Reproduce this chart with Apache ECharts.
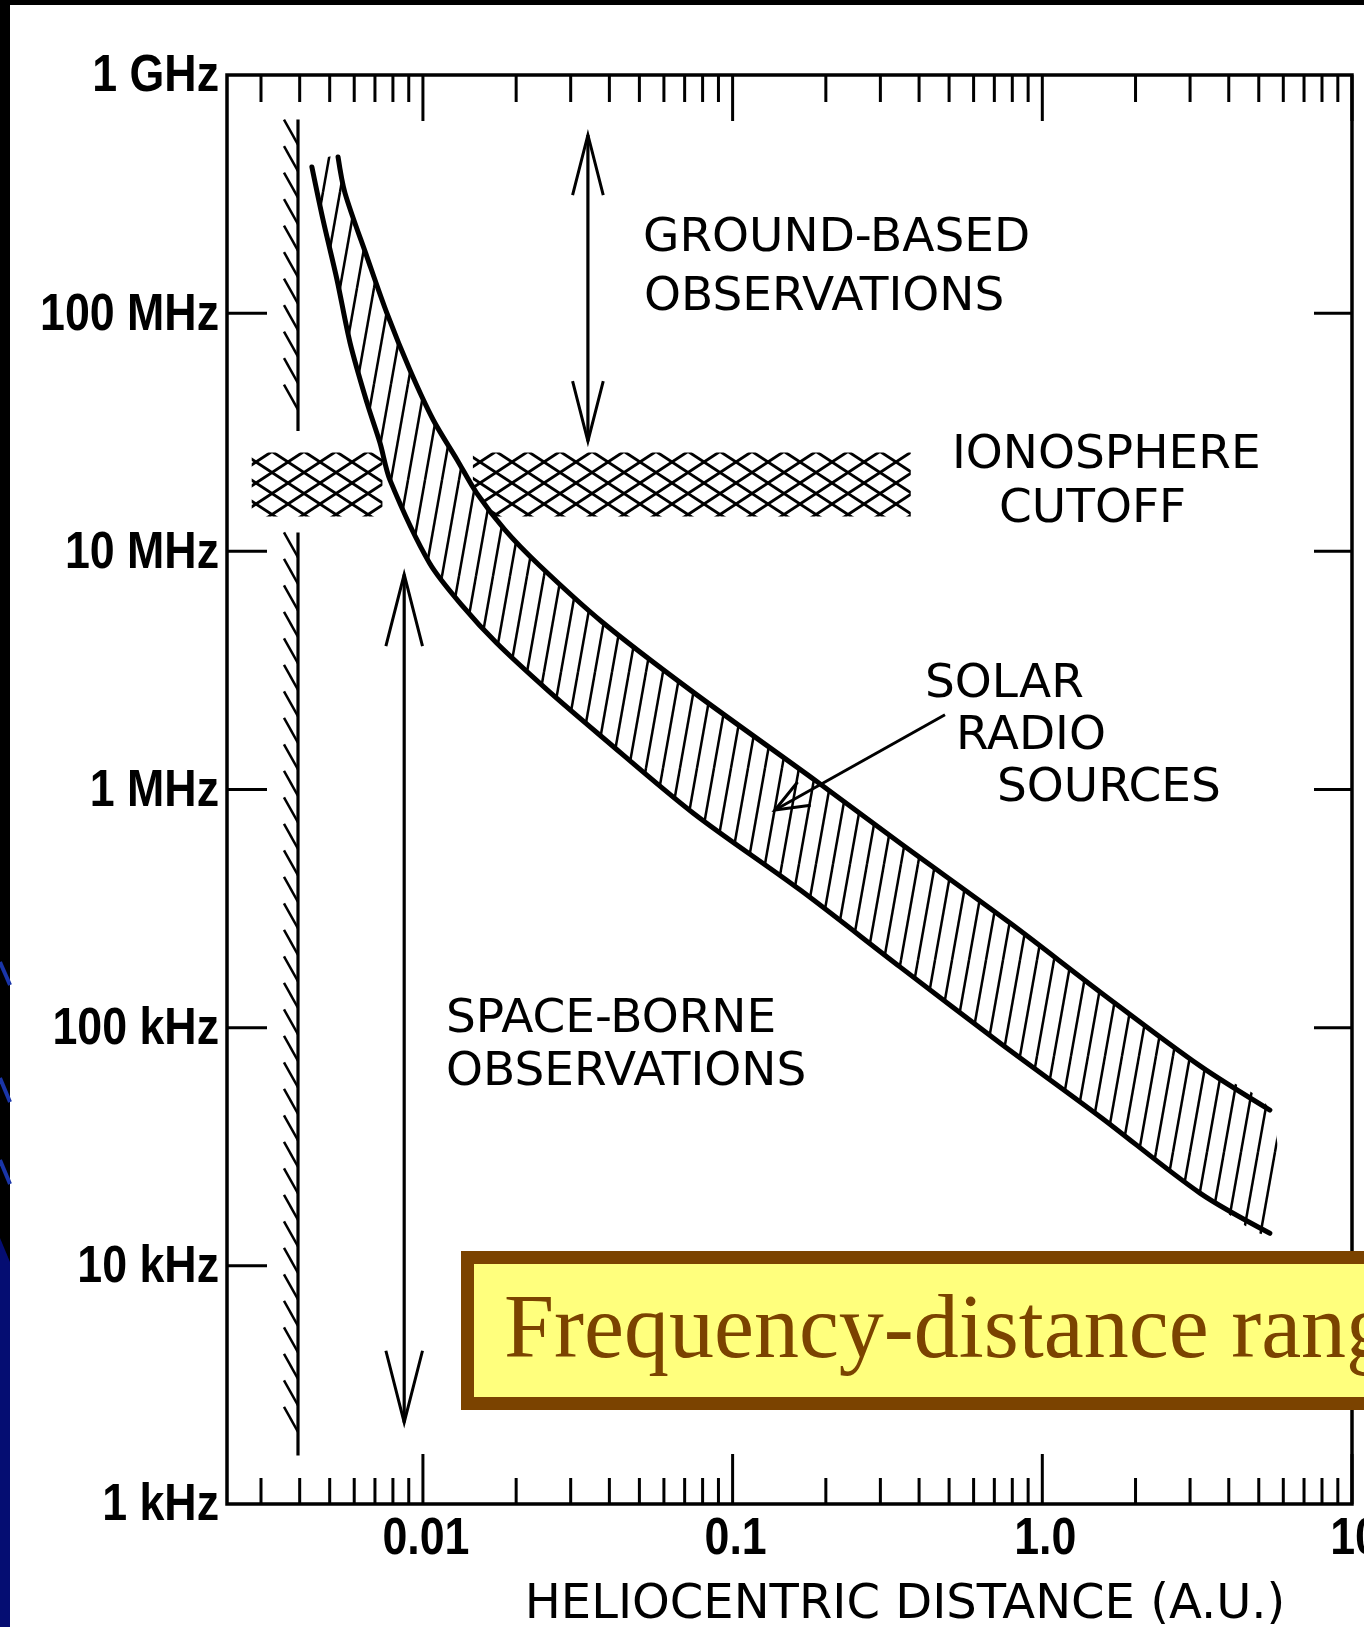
<!DOCTYPE html>
<html>
<head>
<meta charset="utf-8">
<title>Frequency-distance range</title>
<script src="https://cdn.jsdelivr.net/npm/echarts@6.0.0/dist/echarts.min.js"></script>
<style>
html,body{margin:0;padding:0;background:#000;overflow:hidden;}
#chart{width:1364px;height:1627px;}
</style>
</head>
<body>
<div id="chart"></div>
<script>
// ---------------- axis ranges ----------------
const X_MIN = 0.00233, X_MAX = 10;
const Y_MIN = 1e3, Y_MAX = 1e9;

// ---------------- tick labels ----------------
const yTickHz = [1e3, 1e4, 1e5, 1e6, 1e7, 1e8, 1e9];
const yTickLabels = ['1 kHz', '10 kHz', '100 kHz', '1 MHz', '10 MHz', '100 MHz', '1 GHz'];
const yInnerTickHz = [1e4, 1e5, 1e6, 1e7, 1e8];
const xTickAU = [0.01, 0.1, 1, 10];
const xTickLabels = ['0.01', '0.1', '1.0', '10'];
const xMinorAU = [0.003, 0.004, 0.005, 0.006, 0.007, 0.008, 0.009,
                  0.02, 0.03, 0.04, 0.05, 0.06, 0.07, 0.08, 0.09,
                  0.2, 0.3, 0.4, 0.5, 0.6, 0.7, 0.8, 0.9,
                  2, 3, 4, 5, 6, 7, 8, 9];

// ---------------- solar radio sources band ----------------
const bandUpperAU = [0.00532, 0.00560, 0.00660, 0.00765, 0.00908, 0.0108, 0.0129, 0.0149, 0.0184, 0.0237,
                     0.0379, 0.0729, 0.187, 0.347, 0.787, 1.54, 3.23, 5.43];
const bandUpperHz = [4.53e8, 3.20e8, 1.72e8, 1.00e8, 5.77e7, 3.56e7, 2.42e7, 1.76e7, 1.23e7, 8.76e6,
                     5.05e6, 2.62e6, 1.08e6, 5.96e5, 2.75e5, 1.41e5, 6.91e4, 4.51e4];
const bandLowerAU = [0.00438, 0.00476, 0.00528, 0.00582, 0.00660, 0.00727, 0.00783, 0.0105, 0.0135, 0.0173,
                     0.0252, 0.0373, 0.0745, 0.165, 0.347, 0.730, 1.54, 3.23, 5.43];
const bandLowerHz = [4.11e8, 2.46e8, 1.38e8, 7.49e7, 4.20e7, 2.85e7, 1.99e7, 8.93e6, 5.84e6, 4.12e6,
                     2.62e6, 1.69e6, 7.97e5, 3.79e5, 1.80e5, 8.63e4, 4.22e4, 2.02e4, 1.37e4];

// ---------------- ionosphere cutoff ----------------
const ionoStartAU = [0.0028, 0.0145];
const ionoEndAU = [0.0074, 0.376];
const ionoHz = [1.4e7, 2.6e7];

// ---------------- solar surface wall ----------------
const wallAU = [0.00395, 0.00395];
const wallTopHz = [6.5e8, 1.2e7];
const wallBottomHz = [3.2e7, 1.6e3];

// ---------------- observation-range arrows ----------------
const rangeArrowAU = [0.0341, 0.0087];
const rangeArrowTopHz = [5.6e8, 8.0e6];
const rangeArrowBottomHz = [2.9e7, 2.2e3];

// pointer arrow: tail -> tip
const pointerAU = [0.485, 0.137];
const pointerHz = [2.06e6, 8.2e5];

// ---------------- texts ----------------
const xAxisTitle = 'HELIOCENTRIC DISTANCE (A.U.)';
const bannerText = 'Frequency-distance range';

// ---------------- patterns ----------------
function makeHatch() {
  const w = 17, h = 96, c = document.createElement('canvas');
  c.width = w; c.height = h;
  const g = c.getContext('2d');
  g.strokeStyle = '#000'; g.lineWidth = 2.5;
  [-w, 0, w].forEach(o => { g.beginPath(); g.moveTo(o, h); g.lineTo(o + w, 0); g.stroke(); });
  return c;
}
function makeCross() {
  const w = 32, h = 21, c = document.createElement('canvas');
  c.width = w; c.height = h;
  const g = c.getContext('2d');
  g.strokeStyle = '#000'; g.lineWidth = 2.8;
  [-w, 0, w].forEach(dx => [-h, 0, h].forEach(dy => {
    g.beginPath(); g.moveTo(dx, dy); g.lineTo(dx + w, dy + h); g.stroke();
    g.beginPath(); g.moveTo(dx, dy + h); g.lineTo(dx + w, dy); g.stroke();
  }));
  return c;
}
const hatchCanvas = makeHatch();
const crossCanvas = makeCross();

const INK = '#000';
const TICK_FONT = "bold 52px 'Liberation Sans', Arial, sans-serif";
const TICK_SCALE = 0.86;
const ANN_FONT = "47px 'DejaVu Sans', sans-serif";

function arrowHead(tip, dir, len, ang) {
  const c = Math.cos(ang), s = Math.sin(ang);
  const a = [dir[0] * c - dir[1] * s, dir[0] * s + dir[1] * c];
  const b = [dir[0] * c + dir[1] * s, -dir[0] * s + dir[1] * c];
  return {
    type: 'polyline',
    shape: { points: [[tip[0] + a[0] * len, tip[1] + a[1] * len], tip, [tip[0] + b[0] * len, tip[1] + b[1] * len]] },
    style: { stroke: INK, lineWidth: 3, fill: 'none', lineJoin: 'miter' }
  };
}

const chart = echarts.init(document.getElementById('chart'), null, { renderer: 'canvas', width: 1364, height: 1627 });

const series = [
  // ionosphere cross-hatch
  {
    type: 'custom', silent: true, z: 3,
    data: ionoStartAU.map((s, i) => [s, ionoEndAU[i], ionoHz[0], ionoHz[1]]),
    encode: { x: [0, 1], y: [2, 3] },
    renderItem(params, api) {
      const p0 = api.coord([api.value(0), api.value(3)]);
      const p1 = api.coord([api.value(1), api.value(2)]);
      return {
        type: 'rect',
        shape: { x: p0[0], y: p0[1], width: p1[0] - p0[0], height: p1[1] - p0[1] },
        style: { fill: { image: crossCanvas, repeat: 'repeat' }, stroke: 'none' }
      };
    }
  },
  // solar radio sources band
  {
    type: 'custom', silent: true, z: 4,
    data: bandUpperAU.map((x, i) => [x, bandUpperHz[i]]),
    encode: { x: 0, y: 1 },
    renderItem(params, api) {
      if (params.dataIndex !== 0) return;
      const U = bandUpperAU.map((x, i) => api.coord([x, bandUpperHz[i]]));
      const L = bandLowerAU.map((x, i) => api.coord([x, bandLowerHz[i]]));
      const poly = U.concat(L.slice().reverse());
      return {
        type: 'group',
        children: [
          { type: 'polygon', shape: { points: poly, smooth: 0.3 }, style: { fill: '#fff', stroke: 'none' } },
          { type: 'polygon', shape: { points: poly, smooth: 0.3 },
            style: { fill: { image: hatchCanvas, repeat: 'repeat' }, stroke: 'none' } },
          { type: 'polyline', shape: { points: U, smooth: 0.3 },
            style: { stroke: INK, lineWidth: 5, fill: 'none', lineCap: 'round' } },
          { type: 'polyline', shape: { points: L, smooth: 0.3 },
            style: { stroke: INK, lineWidth: 5, fill: 'none', lineCap: 'round' } }
        ]
      };
    }
  },
  // solar surface wall with hatches
  {
    type: 'custom', silent: true, z: 4,
    data: wallAU.map((x, i) => [x, wallTopHz[i], wallBottomHz[i]]),
    encode: { x: 0, y: [1, 2] },
    renderItem(params, api) {
      const t = api.coord([api.value(0), api.value(1)]);
      const b = api.coord([api.value(0), api.value(2)]);
      const children = [{ type: 'line', shape: { x1: t[0], y1: t[1], x2: b[0], y2: b[1] }, style: { stroke: INK, lineWidth: 3.2 } }];
      for (let y = t[1] + 25; y <= b[1] + 0.5; y += 26.5) {
        children.push({ type: 'line', shape: { x1: t[0] - 14, y1: y - 25, x2: t[0], y2: y }, style: { stroke: INK, lineWidth: 2.5 } });
      }
      return { type: 'group', children };
    }
  },
  // double-headed range arrows
  {
    type: 'custom', silent: true, z: 5,
    data: rangeArrowAU.map((x, i) => [x, rangeArrowTopHz[i], rangeArrowBottomHz[i]]),
    encode: { x: 0, y: [1, 2] },
    renderItem(params, api) {
      const t = api.coord([api.value(0), api.value(1)]);
      const b = api.coord([api.value(0), api.value(2)]);
      const len = params.dataIndex === 0 ? 62 : 74;
      return {
        type: 'group',
        children: [
          { type: 'line', shape: { x1: t[0], y1: t[1], x2: b[0], y2: b[1] }, style: { stroke: INK, lineWidth: 3.2 } },
          arrowHead(t, [0, 1], len, 0.25),
          arrowHead(b, [0, -1], len, 0.25)
        ]
      };
    }
  },
  // pointer arrow for "SOLAR RADIO SOURCES"
  {
    type: 'custom', silent: true, z: 6,
    data: [[pointerAU[0], pointerHz[0], pointerAU[1], pointerHz[1]]],
    encode: { x: [0, 2], y: [1, 3] },
    renderItem(params, api) {
      const tail = api.coord([api.value(0), api.value(1)]);
      const tip = api.coord([api.value(2), api.value(3)]);
      const dx = tail[0] - tip[0], dy = tail[1] - tip[1], d = Math.hypot(dx, dy);
      return {
        type: 'group',
        children: [
          { type: 'line', shape: { x1: tail[0], y1: tail[1], x2: tip[0], y2: tip[1] }, style: { stroke: INK, lineWidth: 3 } },
          arrowHead(tip, [dx / d, dy / d], 36, 0.38)
        ]
      };
    }
  },
  // x ticks (bottom up, top down)
  {
    type: 'custom', silent: true, z: 6,
    data: xTickAU.map(v => [v, Y_MIN, 1]).concat(xMinorAU.map(v => [v, Y_MIN, 0])),
    encode: { x: 0, y: 1 },
    renderItem(params, api) {
      const v = api.value(0), major = api.value(2) === 1;
      const b = api.coord([v, Y_MIN]), t = api.coord([v, Y_MAX]);
      const lb = major ? 50 : 26, lt = major ? 46 : 27;
      return {
        type: 'group',
        children: [
          { type: 'line', shape: { x1: b[0], y1: b[1], x2: b[0], y2: b[1] - lb }, style: { stroke: INK, lineWidth: 3 } },
          { type: 'line', shape: { x1: t[0], y1: t[1], x2: t[0], y2: t[1] + lt }, style: { stroke: INK, lineWidth: 3 } }
        ]
      };
    }
  },
  // y ticks (left inward, right inward)
  {
    type: 'custom', silent: true, z: 6,
    data: yInnerTickHz.map(v => [X_MIN, v]),
    encode: { x: 0, y: 1 },
    renderItem(params, api) {
      const v = api.value(1);
      const l = api.coord([X_MIN, v]), r = api.coord([X_MAX, v]);
      return {
        type: 'group',
        children: [
          { type: 'line', shape: { x1: l[0], y1: l[1], x2: l[0] + 40, y2: l[1] }, style: { stroke: INK, lineWidth: 3 } },
          { type: 'line', shape: { x1: r[0], y1: r[1], x2: r[0] - 38, y2: r[1] }, style: { stroke: INK, lineWidth: 3 } }
        ]
      };
    }
  },
  // y tick labels (condensed)
  {
    type: 'custom', silent: true, z: 7,
    data: yTickHz.map((v, i) => [X_MIN, v, i]),
    encode: { x: 0, y: 1 },
    renderItem(params, api) {
      const p = api.coord([X_MIN, api.value(1)]);
      return {
        type: 'text', x: p[0] - 8, y: p[1] + 2, scaleX: TICK_SCALE,
        style: { text: yTickLabels[api.value(2)], font: TICK_FONT, fill: INK,
                 align: 'right', textAlign: 'right', verticalAlign: 'middle', textVerticalAlign: 'middle' }
      };
    }
  },
  // x tick labels (condensed)
  {
    type: 'custom', silent: true, z: 7,
    data: xTickAU.map((v, i) => [v, Y_MIN, i]),
    encode: { x: 0, y: 1 },
    renderItem(params, api) {
      const p = api.coord([api.value(0), Y_MIN]);
      return {
        type: 'text', x: p[0] + 3, y: p[1] + 36, scaleX: TICK_SCALE,
        style: { text: xTickLabels[api.value(2)], font: TICK_FONT, fill: INK,
                 align: 'center', textAlign: 'center', verticalAlign: 'middle', textVerticalAlign: 'middle' }
      };
    }
  }
];

function annText(text, x, y) {
  return { type: 'text', x: x, y: y, z: 20, silent: true,
    style: { text: text, font: ANN_FONT, fill: INK, align: 'left', textAlign: 'left', verticalAlign: 'middle', textVerticalAlign: 'middle' } };
}

const option = {
  backgroundColor: '#000',
  animation: false,
  grid: {
    left: 227, right: 12, top: 75, bottom: 123,
    show: true, borderColor: INK, borderWidth: 3.5, backgroundColor: 'transparent',
    containLabel: false, outerBoundsMode: 'none'
  },
  xAxis: {
    type: 'log', logBase: 10, min: X_MIN, max: X_MAX,
    axisLine: { show: false }, axisTick: { show: false }, splitLine: { show: false }, minorTick: { show: false },
    axisLabel: { show: false }
  },
  yAxis: {
    type: 'log', logBase: 10, min: Y_MIN, max: Y_MAX,
    axisLine: { show: false }, axisTick: { show: false }, splitLine: { show: false }, minorTick: { show: false },
    axisLabel: { show: false }
  },
  graphic: [
    // white page of the scanned figure
    { type: 'rect', z: -100, silent: true, shape: { x: 10, y: 5, width: 1354, height: 1622 }, style: { fill: '#fff' } },
    // slide background visible at lower left
    { type: 'polygon', z: -99, silent: true, shape: { points: [[0, 1238], [10, 1262], [10, 1627], [0, 1627]] }, style: { fill: '#050d72' } },
    { type: 'line', z: -99, silent: true, shape: { x1: 0, y1: 962, x2: 10, y2: 985 }, style: { stroke: '#1a35a8', lineWidth: 4 } },
    { type: 'line', z: -99, silent: true, shape: { x1: 0, y1: 1078, x2: 10, y2: 1102 }, style: { stroke: '#1a35a8', lineWidth: 4 } },
    { type: 'line', z: -99, silent: true, shape: { x1: 0, y1: 1160, x2: 10, y2: 1184 }, style: { stroke: '#1a35a8', lineWidth: 4 } },
    // annotations
    annText('GROUND-BASED', 643, 239),
    annText('OBSERVATIONS', 644, 298),
    annText('IONOSPHERE', 952, 456),
    annText('CUTOFF', 999, 510),
    annText('SOLAR', 925, 685),
    annText('RADIO', 956, 737),
    annText('SOURCES', 997, 789),
    annText('SPACE-BORNE', 446, 1020),
    annText('OBSERVATIONS', 446, 1073),
    // x axis title
    { type: 'text', x: 905, y: 1606, z: 20, silent: true,
      style: { text: xAxisTitle, font: "48px 'DejaVu Sans', sans-serif", fill: INK, align: 'center', textAlign: 'center', verticalAlign: 'middle', textVerticalAlign: 'middle' } },
    // banner overlay
    { type: 'rect', z: 50, silent: true, shape: { x: 467.5, y: 1257.5, width: 1000, height: 146 },
      style: { fill: '#ffff7d', stroke: '#7b4300', lineWidth: 13 } },
    { type: 'text', x: 504, y: 1333, z: 51, silent: true,
      style: { text: bannerText, font: "90px 'Liberation Serif', 'Times New Roman', serif", fill: '#7b4300', align: 'left', textAlign: 'left', verticalAlign: 'middle', textVerticalAlign: 'middle' } }
  ],
  series: series
};

chart.setOption(option);
</script>
</body>
</html>
